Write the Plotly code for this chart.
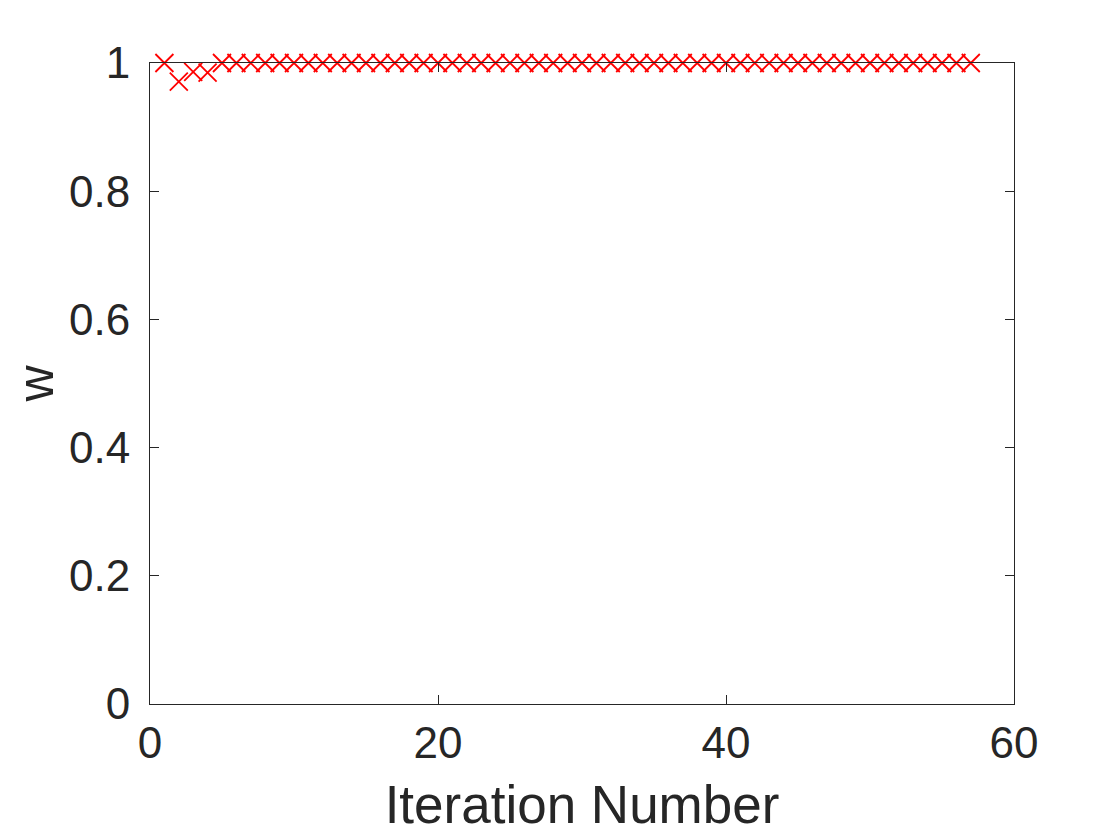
import plotly.graph_objects as go

iterations = list(range(1, 58))
w_values = [
    1.0, 0.971, 0.986, 0.985, 1.0, 1.0, 1.0, 1.0, 1.0, 1.0,
    1.0, 1.0, 1.0, 1.0, 1.0, 1.0, 1.0, 1.0, 1.0, 1.0,
    1.0, 1.0, 1.0, 1.0, 1.0, 1.0, 1.0, 1.0, 1.0, 1.0,
    1.0, 1.0, 1.0, 1.0, 1.0, 1.0, 1.0, 1.0, 1.0, 1.0,
    1.0, 1.0, 1.0, 1.0, 1.0, 1.0, 1.0, 1.0, 1.0, 1.0,
    1.0, 1.0, 1.0, 1.0, 1.0, 1.0, 1.0,
]
x_ticks = [0, 20, 40, 60]
y_ticks = [0, 0.2, 0.4, 0.6, 0.8, 1]
y_tick_labels = ["0", "0.2", "0.4", "0.6", "0.8", "1"]

ink = "#262626"
font_family = "Liberation Sans, Arial, Helvetica, sans-serif"

fig = go.Figure()
fig.add_trace(go.Scatter(
    x=iterations, y=w_values, mode="markers",
    marker=dict(symbol="x-thin-open", size=18, color="#ff0000",
                line=dict(color="#ff0000", width=1.8)),
    cliponaxis=False, showlegend=False,
))

axis_common = dict(
    showline=True, linecolor=ink, linewidth=1, mirror="ticks",
    ticks="inside", ticklen=9, tickwidth=1, tickcolor=ink,
    showgrid=False, zeroline=False,
    tickfont=dict(family=font_family, size=44, color=ink),
)

fig.update_layout(
    width=1120, height=840,
    margin=dict(l=142, r=114, t=55, b=144),
    paper_bgcolor="white", plot_bgcolor="white",
    font=dict(family=font_family, color=ink),
    xaxis=dict(range=[0, 60], tickvals=x_ticks,
               title=dict(text="Iteration Number",
                          font=dict(family=font_family, size=53, color=ink),
                          standoff=20),
               **axis_common),
    yaxis=dict(range=[0, 1], tickvals=y_ticks, ticktext=y_tick_labels,
               ticklabelstandoff=10,
               title=dict(text="w",
                          font=dict(family=font_family, size=50, color=ink),
                          standoff=4),
               **axis_common),
)

fig.write_html("out.html")
